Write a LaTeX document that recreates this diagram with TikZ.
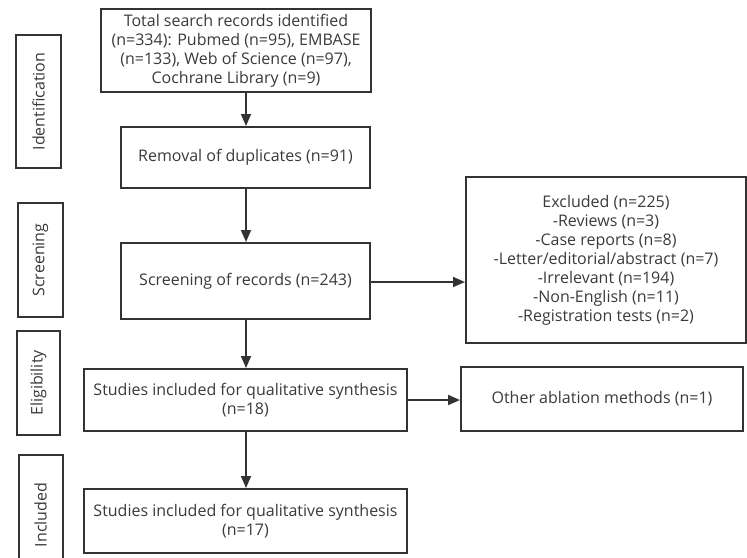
\documentclass[tikz,border=0pt]{standalone}
\usepackage{fontspec}
\setmainfont{Open Sans}
\usetikzlibrary{arrows.meta}
\definecolor{ln}{HTML}{333333}
\definecolor{tx}{HTML}{3a3a3a}
\begin{document}
\begin{tikzpicture}[x=1pt,y=-1pt,
  box/.style={draw=ln,line width=2pt,text=tx,align=center,inner sep=0pt,font=\fontsize{16}{19}\selectfont},
  side/.style={draw=ln,line width=2pt,text=tx,inner sep=0pt,font=\fontsize{16}{19}\selectfont},
  arr/.style={draw=ln,line width=1.8pt,-{Triangle[length=12pt,width=10pt]}}]
\useasboundingbox (0,0) rectangle (747,557);
\clip (0,0) rectangle (747,557);
% main boxes
\node[box,minimum width=270pt,minimum height=83pt] (b1) at (236,50.5) {Total search records identified\\(n=334): Pubmed (n=95), EMBASE\\(n=133), Web of Science (n=97),\\Cochrane Library (n=9)};
\node[box,minimum width=249pt,minimum height=61pt] (b2) at (245.5,157.5) {Removal of duplicates (n=91)};
\node[box,minimum width=249pt,minimum height=76pt] (b3) at (245.5,281) {Screening of records (n=243)};
\node[box,minimum width=323pt,minimum height=62pt] (b4) at (245.5,400) {Studies included for qualitative synthesis\\(n=18)};
\node[box,minimum width=323pt,minimum height=64pt] (b5) at (245.5,521) {Studies included for qualitative synthesis\\(n=17)};
\node[box,minimum width=280pt,minimum height=166pt] (ex) at (606,260) {Excluded (n=225)\\-Reviews (n=3)\\-Case reports (n=8)\\-Letter/editorial/abstract (n=7)\\-Irrelevant (n=194)\\-Non-English (n=11)\\-Registration tests (n=2)};
\node[box,minimum width=282pt,minimum height=64pt] (ot) at (602,399) {Other ablation methods (n=1)};
% side labels
\node[side,minimum width=133pt,minimum height=45pt,rotate=90] (s1) at (38.5,101.5) {Identification};
\node[side,minimum width=114pt,minimum height=45pt,rotate=90] (s2) at (40.5,260) {Screening};
\node[side,minimum width=104pt,minimum height=43pt,rotate=90] (s3) at (38.5,383) {Eligibility};
\node[side,minimum width=120pt,minimum height=44pt,rotate=90] (s4) at (40.5,515) {Included};
% arrows
\draw[arr] (b1.south -| 246,0) -- (b2.north -| 246,0);
\draw[arr] (b2.south -| 246,0) -- (b3.north -| 246,0);
\draw[arr] (b3.south -| 246,0) -- (b4.north -| 246,0);
\draw[arr] (b4.south -| 246,0) -- (b5.north -| 246,0);
\draw[arr] (b3.east |- 0,282) -- (ex.west |- 0,282);
\draw[arr] (b4.east) -- (ot.west |- b4.east);
\end{tikzpicture}
\end{document}
